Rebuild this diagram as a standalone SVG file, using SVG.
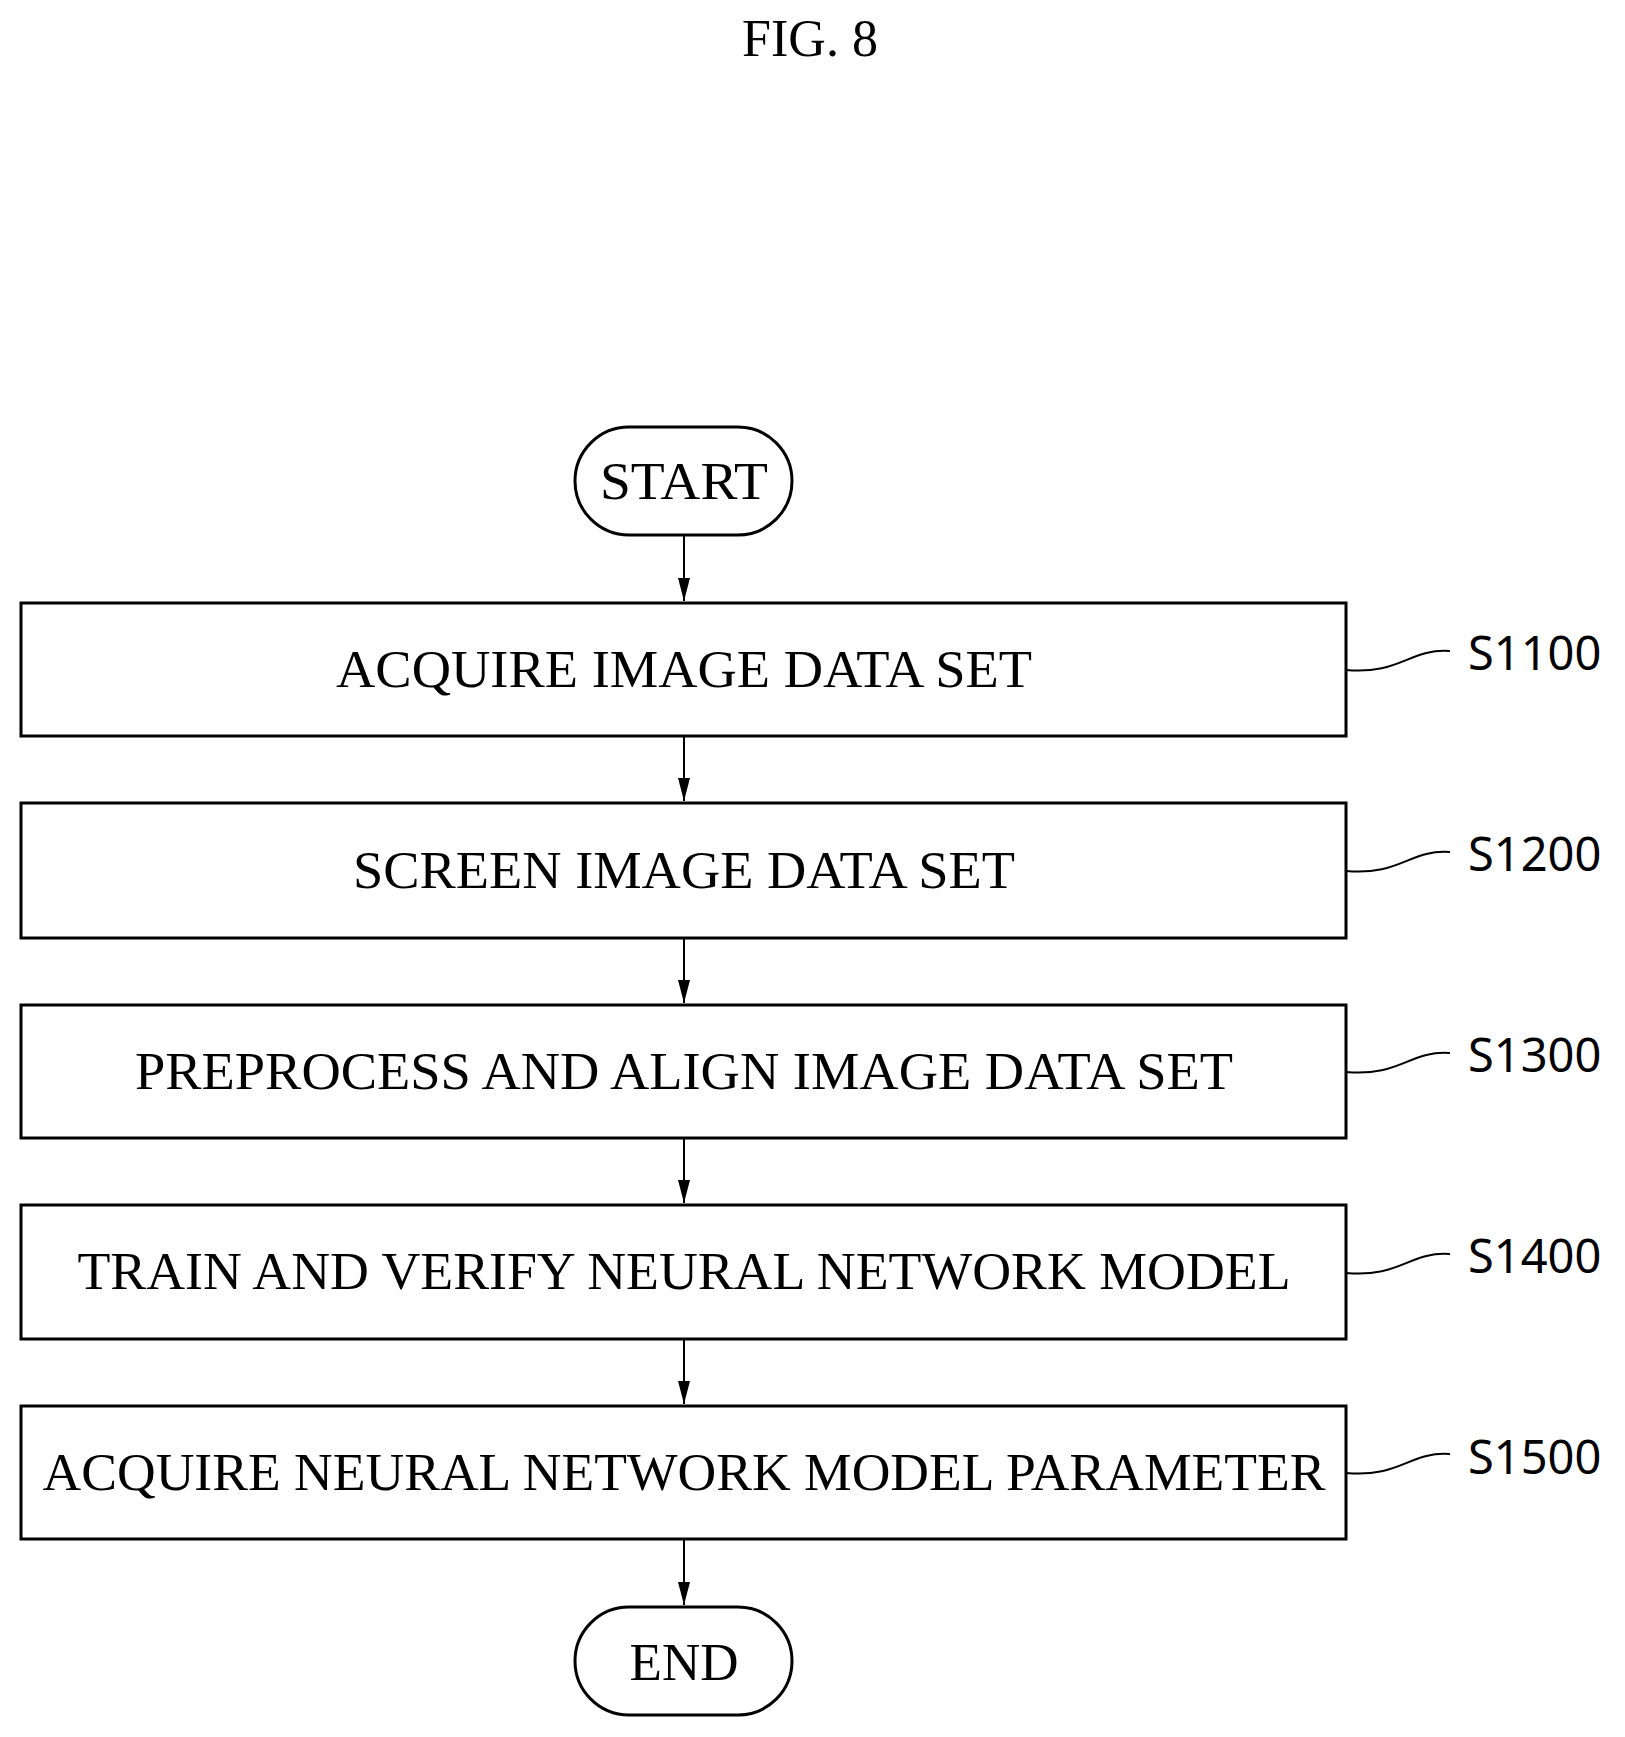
<svg xmlns="http://www.w3.org/2000/svg" width="1625" height="1737" viewBox="0 0 1625 1737">
<style>
.b{fill:#fff;stroke:#000;stroke-width:3}
.t{font-family:"Liberation Serif",serif;font-size:52px;text-anchor:middle}
.s{font-family:"Noto Sans","DejaVu Sans",sans-serif;font-size:47px}
.c{fill:none;stroke:#000;stroke-width:2}
</style>
<rect width="1625" height="1737" fill="#fff"/>
<text x="810" y="56" class="t" font-size="46">FIG. 8</text>
<g id="connectors">
<line class="c" x1="684" y1="535" x2="684" y2="601"/><path d="M678,578 L690,578 L684,601Z"/>
<line class="c" x1="684" y1="736" x2="684" y2="801"/><path d="M678,778 L690,778 L684,801Z"/>
<line class="c" x1="684" y1="938" x2="684" y2="1003"/><path d="M678,980 L690,980 L684,1003Z"/>
<line class="c" x1="684" y1="1138" x2="684" y2="1203"/><path d="M678,1180 L690,1180 L684,1203Z"/>
<line class="c" x1="684" y1="1339" x2="684" y2="1404"/><path d="M678,1381 L690,1381 L684,1404Z"/>
<line class="c" x1="684" y1="1539" x2="684" y2="1605"/><path d="M678,1582 L690,1582 L684,1605Z"/>
</g>
<g id="start"><rect class="b" x="575" y="427" width="217" height="108" rx="54"/><text class="t" x="684" y="499" textLength="168" lengthAdjust="spacingAndGlyphs">START</text></g>
<g id="s1100"><rect class="b" x="21" y="603" width="1325" height="133"/><text class="t" x="684" y="687" textLength="696" lengthAdjust="spacingAndGlyphs">ACQUIRE IMAGE DATA SET</text>
<path class="c" d="M1346,670 C1400,675 1410,648 1450,651"/><text class="s" x="1468" y="670">S1100</text></g>
<g id="s1200"><rect class="b" x="21" y="803" width="1325" height="135"/><text class="t" x="684" y="888" textLength="662" lengthAdjust="spacingAndGlyphs">SCREEN IMAGE DATA SET</text>
<path class="c" d="M1346,871 C1400,876 1410,849 1450,852"/><text class="s" x="1468" y="871">S1200</text></g>
<g id="s1300"><rect class="b" x="21" y="1005" width="1325" height="133"/><text class="t" x="684" y="1089" textLength="1098" lengthAdjust="spacingAndGlyphs">PREPROCESS AND ALIGN IMAGE DATA SET</text>
<path class="c" d="M1346,1072 C1400,1077 1410,1050 1450,1053"/><text class="s" x="1468" y="1072">S1300</text></g>
<g id="s1400"><rect class="b" x="21" y="1205" width="1325" height="134"/><text class="t" x="684" y="1289" textLength="1213" lengthAdjust="spacingAndGlyphs">TRAIN AND VERIFY NEURAL NETWORK MODEL</text>
<path class="c" d="M1346,1273 C1400,1278 1410,1251 1450,1254"/><text class="s" x="1468" y="1273">S1400</text></g>
<g id="s1500"><rect class="b" x="21" y="1406" width="1325" height="133"/><text class="t" x="684" y="1490" textLength="1283" lengthAdjust="spacingAndGlyphs">ACQUIRE NEURAL NETWORK MODEL PARAMETER</text>
<path class="c" d="M1346,1473 C1400,1478 1410,1451 1450,1454"/><text class="s" x="1468" y="1474">S1500</text></g>
<g id="end"><rect class="b" x="575" y="1607" width="217" height="108" rx="54"/><text class="t" x="684" y="1680" textLength="109" lengthAdjust="spacingAndGlyphs">END</text></g>
</svg>
